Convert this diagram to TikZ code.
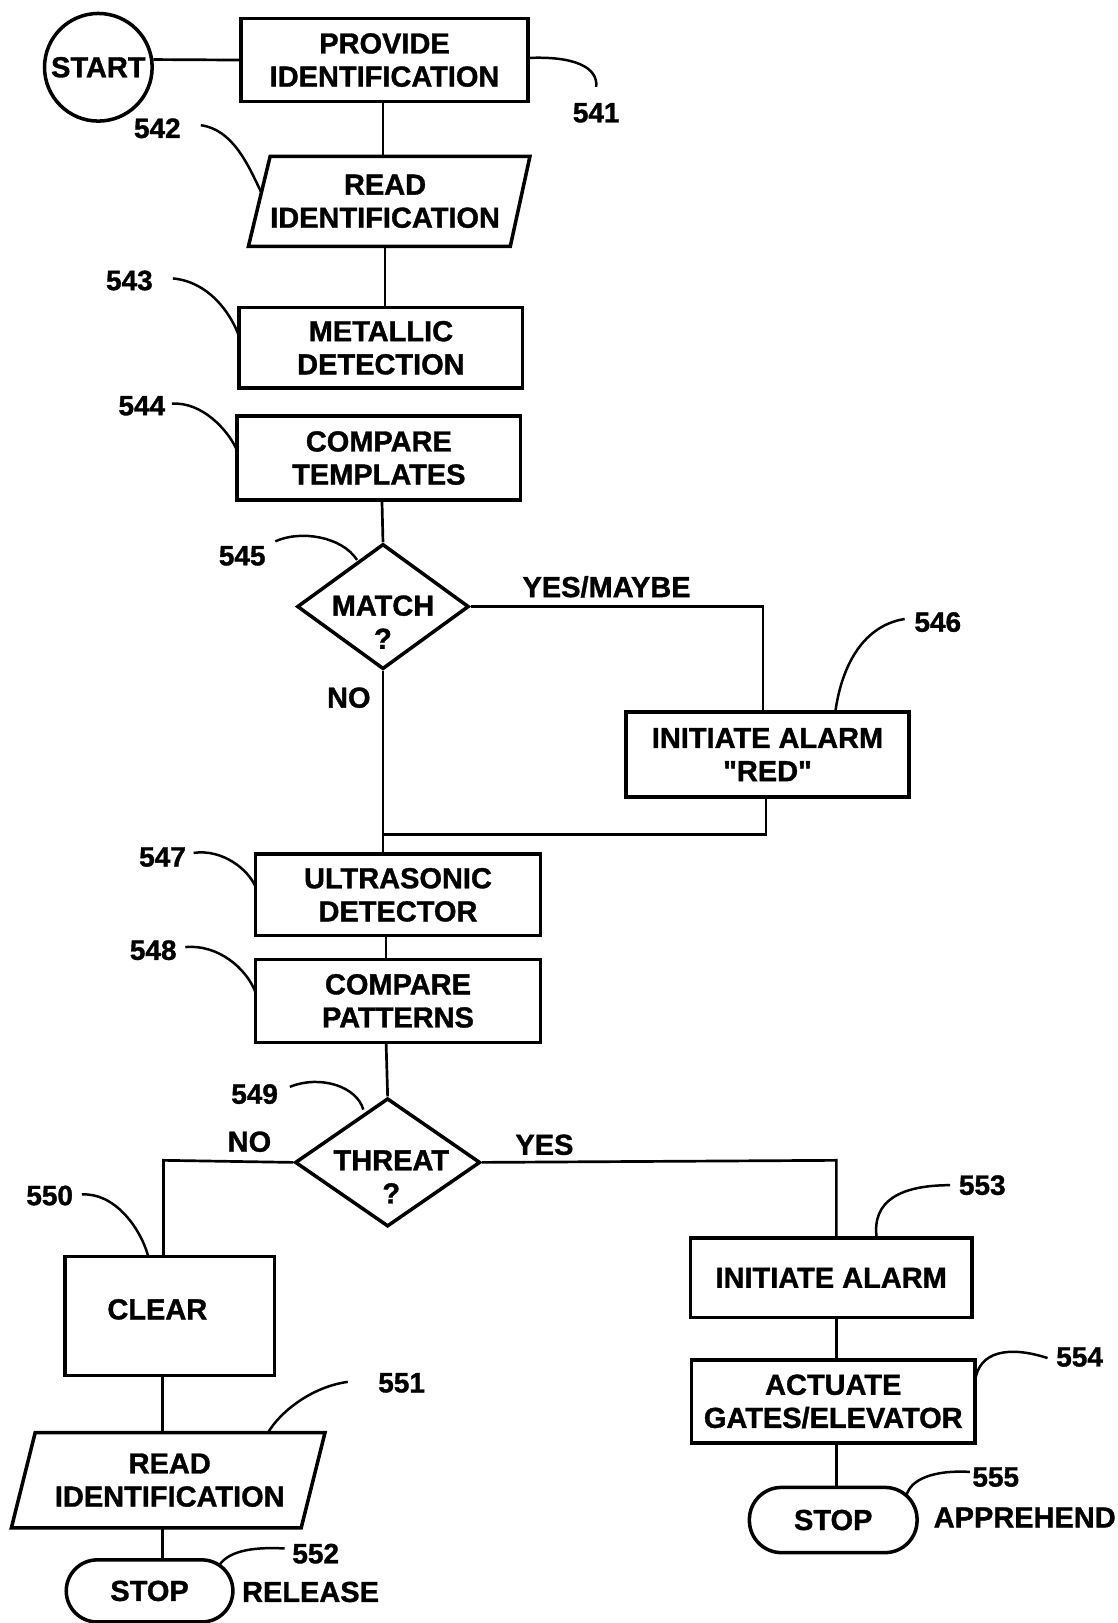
\documentclass[tikz,border=0pt]{standalone}
\usepackage{fontspec}
\setmainfont{Liberation Sans}[BoldFeatures={FakeBold=1.2}]
\usetikzlibrary{shapes.geometric,calc}
\begin{document}
\begin{tikzpicture}[x=1pt,y=-1pt,
  bx/.style={draw,line width=3.4pt,rectangle,inner sep=0pt},
  dm/.style={draw,diamond,line width=3.4pt,inner sep=0pt},
  tx/.style={font=\fontsize{28}{32}\selectfont\bfseries,align=center,inner sep=0pt},
  cn/.style={line width=2.6pt},
  ld/.style={line width=2.4pt},
  nm/.style={font=\fontsize{27}{32}\selectfont\bfseries,inner sep=0pt}]
\useasboundingbox (0,0) rectangle (1080,1568);

% ---------- nodes ----------
\node[draw,circle,line width=3.4pt,minimum size=104pt,inner sep=0pt,tx] (start) at (95,65) {START};
\node[bx,tx,minimum width=277pt,minimum height=80pt] (p541) at (371.5,58) {PROVIDE\\IDENTIFICATION};

% read identification (parallelogram)
\draw[line width=3.4pt,line join=miter] (261,151) -- (512,151) -- (493,238) -- (240,238) -- cycle;
\node[tx,minimum width=250pt,minimum height=87pt] (r542) at (372,194.5) {READ\\IDENTIFICATION};

\node[bx,tx,minimum width=274pt,minimum height=78pt] (m543) at (368,336) {METALLIC\\DETECTION};
\node[bx,tx,minimum width=274pt,minimum height=81pt] (c544) at (366,442.5) {COMPARE\\TEMPLATES};

\node[dm,minimum width=166pt,minimum height=121pt] (match) at (370,586) {};
\node[tx] (matcht) at (370,601) {MATCH\\?};

\node[bx,tx,minimum width=273pt,minimum height=82pt] (r546) at (741.5,729) {INITIATE ALARM\\\textquotedbl RED\textquotedbl};

\node[bx,tx,minimum width=275pt,minimum height=79pt] (u547) at (384.5,864.5) {ULTRASONIC\\DETECTOR};
\node[bx,tx,minimum width=275pt,minimum height=80pt] (c548) at (384.5,967) {COMPARE\\PATTERNS};

\node[dm,minimum width=179pt,minimum height=124pt] (threat) at (374.5,1123) {};
\node[tx] (threatt) at (378,1137) {THREAT\\?};

\node[bx,minimum width=202pt,minimum height=115pt] (clear) at (164,1271.5) {};
\node[tx] (cleart) at (152,1265) {CLEAR};

% read identification (parallelogram) lower
\draw[line width=3.4pt,line join=miter] (34,1384) -- (314,1384) -- (291,1476) -- (11,1476) -- cycle;
\node[tx,minimum width=250pt,minimum height=92pt] (r551) at (164,1430) {READ\\IDENTIFICATION};

\node[bx,tx,rounded corners=30pt,minimum width=161pt,minimum height=60pt] (s552) at (144.5,1537) {STOP};

\node[bx,tx,minimum width=272pt,minimum height=77pt] (a553) at (803,1234.5) {INITIATE ALARM};
\node[bx,tx,minimum width=274pt,minimum height=80pt] (g554) at (805,1354) {ACTUATE\\GATES/ELEVATOR};
\node[bx,tx,rounded corners=31pt,minimum width=162pt,minimum height=63pt] (s555) at (805,1468.5) {STOP};

% ---------- connectors ----------
\draw[cn] (start.8) -- (p541.west);
\draw[cn] (370,98) -- (370,151);
\draw[cn] (372,238) -- (m543.north -| 372,0);
\draw[cn] (369,483) -- (match.north);
\coordinate (yesc) at (737,586);
\draw[cn] (match.east) -- (yesc) -- (yesc |- r546.north);
\coordinate (merge) at (370,806);
\draw[cn] (r546.south -| 740,0) -- (740,806) -- (merge);
\draw[cn] (match.south) -- (match.south |- u547.north);
\draw[cn] (373,904) -- (373,927);
\draw[cn] (373,1007) -- (threat.north);
\coordinate (noc) at (158,1121);
\draw[cn] (threat.west) -- (noc) -- (noc |- clear.north);
\coordinate (yesd) at (808,1121);
\draw[cn] (threat.east) -- (yesd) -- (yesd |- a553.north);
\draw[cn] (157,1329) -- (157,1384);
\draw[cn] (157,1476) -- (157,1507);
\draw[cn] (808,1273) -- (808,1314);
\draw[cn] (808,1394) -- (808,1437);

% ---------- labels ----------
\node[tx] (yesmaybe) at (586,567) {YES/MAYBE};
\node[tx] (nomatch) at (337,674) {NO};
\node[tx] (nothreat) at (241,1103) {NO};
\node[tx] (yesthreat) at (526,1106) {YES};
\node[tx] (release) at (300,1538) {RELEASE};
\node[tx] (apprehend) at (990,1466) {APPREHEND};

\node[nm] (n541) at (576,109) {541};
\node[nm] (n542) at (152,124) {542};
\node[nm] (n543) at (125,271) {543};
\node[nm] (n544) at (137,392) {544};
\node[nm] (n545) at (234,537) {545};
\node[nm] (n546) at (906,601) {546};
\node[nm] (n547) at (157,828) {547};
\node[nm] (n548) at (148,918) {548};
\node[nm] (n549) at (246,1057) {549};
\node[nm] (n550) at (48,1155) {550};
\node[nm] (n551) at (388,1336) {551};
\node[nm] (n552) at (305,1501) {552};
\node[nm] (n553) at (949,1145) {553};
\node[nm] (n554) at (1043,1311) {554};
\node[nm] (n555) at (962,1427) {555};

% ---------- leaders ----------
\draw[ld] (510,56) .. controls (555,54) and (578,65) .. (576,84);
\draw[ld] (194,121) .. controls (225,125) and (240,160) .. (252,185);
\draw[ld] (167,269) .. controls (200,272) and (222,300) .. (231,325);
\draw[ld] (166,390) .. controls (195,388) and (220,415) .. (229,435);
\draw[ld] (266,523) .. controls (290,512) and (330,518) .. (345,541);
\draw[ld] (874,598) .. controls (830,605) and (812,650) .. (807,688);
\draw[ld] (187,824) .. controls (215,820) and (240,840) .. (247,857);
\draw[ld] (179,915) .. controls (210,912) and (238,935) .. (247,959);
\draw[ld] (280,1050) .. controls (310,1038) and (345,1050) .. (351,1072);
\draw[ld] (79,1154) .. controls (110,1152) and (135,1185) .. (143,1213);
\draw[ld] (336,1335) .. controls (300,1340) and (270,1365) .. (259,1384);
\draw[ld] (275,1496) .. controls (240,1494) and (220,1500) .. (212,1512);
\draw[ld] (918,1145) .. controls (870,1145) and (842,1160) .. (847,1196);
\draw[ld] (1012,1312) .. controls (975,1300) and (945,1305) .. (942,1335);
\draw[ld] (937,1422) .. controls (900,1420) and (880,1430) .. (876,1444);
\end{tikzpicture}
\end{document}
